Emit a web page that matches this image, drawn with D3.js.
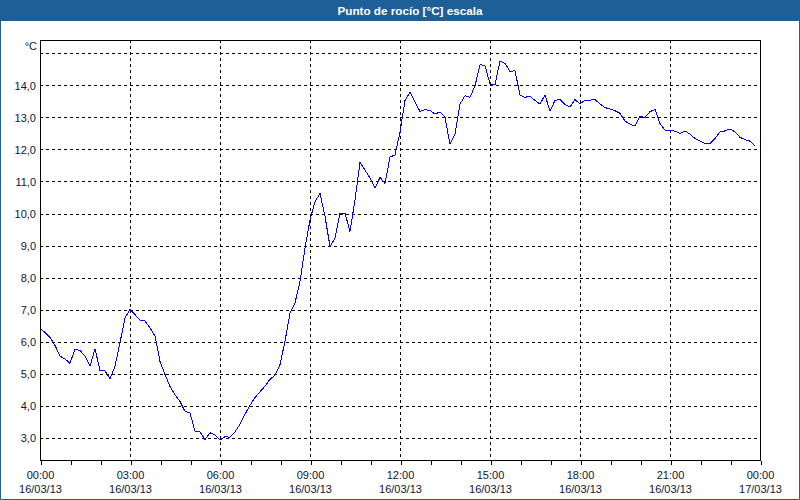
<!DOCTYPE html>
<html>
<head>
<meta charset="utf-8">
<script src="https://cdn.jsdelivr.net/npm/d3@7"></script>
<style>
  html, body { margin: 0; padding: 0; background: #ffffff; }
  svg { display: block; }
  text { font-family: "Liberation Sans", Arial, sans-serif; }
</style>
</head>
<body>
<script>
// ---- data ----
const chartTitle = "Punto de rocío [°C] escala";
const unitLabel = "°C";
const startTime = "2013-03-16T00:00:00";
const endTime = "2013-03-17T00:00:00";
const stepMinutes = 10;
const dewPoint = [
  6.42, 6.28, 6.13, 5.88, 5.54, 5.46, 5.32, 5.77, 5.72, 5.54,
  5.23, 5.77, 5.10, 5.08, 4.84, 5.23, 5.97, 6.74, 7.00, 6.84,
  6.67, 6.64, 6.43, 6.17, 5.38, 4.97, 4.60, 4.34, 4.13, 3.82,
  3.77, 3.20, 3.18, 2.94, 3.15, 3.09, 2.92, 3.03, 3.01, 3.18,
  3.42, 3.73, 4.01, 4.25, 4.43, 4.61, 4.82, 4.95, 5.28, 6.01,
  6.89, 7.21, 7.88, 8.92, 9.80, 10.37, 10.63, 9.91, 8.97, 9.23,
  10.01, 10.01, 9.44, 10.42, 11.59, 11.36, 11.10, 10.79, 11.13, 10.94,
  11.76, 11.83, 12.54, 13.53, 13.79, 13.48, 13.19, 13.24, 13.22, 13.11,
  13.17, 13.01, 12.16, 12.49, 13.42, 13.68, 13.63, 13.99, 14.65, 14.62,
  14.05, 14.02, 14.77, 14.69, 14.44, 14.46, 13.70, 13.63, 13.66, 13.53,
  13.42, 13.70, 13.20, 13.53, 13.57, 13.40, 13.33, 13.56, 13.42, 13.54,
  13.54, 13.56, 13.42, 13.31, 13.26, 13.21, 13.13, 12.89, 12.79, 12.73,
  13.04, 13.00, 13.18, 13.25, 12.81, 12.60, 12.60, 12.57, 12.50, 12.58,
  12.48, 12.34, 12.26, 12.19, 12.19, 12.34, 12.55, 12.58, 12.64, 12.55,
  12.38, 12.31, 12.26, 12.11
];
const yTickValues = [3, 4, 5, 6, 7, 8, 9, 10, 11, 12, 13, 14];
const yGridValues = [3, 4, 5, 6, 7, 8, 9, 10, 11, 12, 13, 14, 15];
const yDomain = [2.3, 15.42];

// ---- layout ----
const W = 800, H = 500;
const M = { left: 40, right: 760, top: 40, bottom: 460 };
const frameBlue = "#1f5f98";
const textColor = "#0f1535";

const t0 = new Date(startTime), t1 = new Date(endTime);
const points = dewPoint.map((v, i) => ({ t: new Date(t0.getTime() + i * stepMinutes * 60000), v }));

const x = d3.scaleTime().domain([t0, t1]).range([M.left, M.right]);
const y = d3.scaleLinear().domain(yDomain).range([M.bottom, M.top]);
const px = v => Math.round(v) + 0.5;

const svg = d3.select("body").append("svg").attr("width", W).attr("height", H);

svg.append("rect").attr("x", 0).attr("y", 0).attr("width", W).attr("height", H).attr("fill", "#ffffff");

// title bar
svg.append("rect").attr("x", 0).attr("y", 0).attr("width", W).attr("height", 21).attr("fill", frameBlue);
svg.append("text").attr("x", 410).attr("y", 15).attr("text-anchor", "middle")
  .attr("fill", "#ffffff").attr("font-weight", "bold").attr("font-size", "11.7px")
  .text(chartTitle);

// outer border (left, right, bottom)
svg.append("path").attr("d", `M0.5,0 V${H - 0.5} H${W - 0.5} V0`)
  .attr("fill", "none").attr("stroke", frameBlue).attr("stroke-width", 1);

// grid
const grid = svg.append("g").attr("stroke", "#000").attr("stroke-width", 1)
  .attr("stroke-dasharray", "3,3").attr("shape-rendering", "crispEdges");
grid.selectAll("line.h").data(yGridValues).join("line")
  .attr("x1", M.left).attr("x2", M.right)
  .attr("y1", d => px(y(d))).attr("y2", d => px(y(d)));
const hourTicks = d3.timeHour.every(1).range(t0, new Date(t1.getTime() + 1));
const majorTicks = hourTicks.filter(d => d.getHours() % 3 === 0);
grid.selectAll("line.v").data(majorTicks.filter(d => +d !== +t0 && +d !== +t1)).join("line")
  .attr("y1", M.top).attr("y2", M.bottom)
  .attr("x1", d => px(x(d))).attr("x2", d => px(x(d)));

// data line
const line = d3.line().x(d => x(d.t)).y(d => y(d.v));
svg.append("path").datum(points).attr("d", line)
  .attr("fill", "none").attr("stroke", "#0000ff").attr("stroke-width", 1)
  .attr("shape-rendering", "crispEdges");

// frame
svg.append("rect").attr("x", M.left + 0.5).attr("y", M.top + 0.5)
  .attr("width", M.right - M.left).attr("height", M.bottom - M.top)
  .attr("fill", "none").attr("stroke", "#000").attr("stroke-width", 1)
  .attr("shape-rendering", "crispEdges");

// x axis ticks
const xAxis = d3.axisBottom(x).tickValues(hourTicks).tickSize(4).tickFormat("");
const gx = svg.append("g").attr("transform", `translate(0.5,${M.bottom + 0.5})`).call(xAxis);
gx.select(".domain").remove();
gx.selectAll(".tick line").attr("stroke", "#000").attr("shape-rendering", "crispEdges");

// x labels
const fmtTime = d3.timeFormat("%H:%M"), fmtDate = d3.timeFormat("%d/%m/%y");
const xl = svg.append("g").attr("font-size", "11px").attr("fill", textColor).attr("text-anchor", "middle");
xl.selectAll("text.t").data(majorTicks).join("text")
  .attr("x", d => x(d) + 0.5).attr("y", 479).text(d => fmtTime(d));
xl.selectAll("text.d").data(majorTicks).join("text")
  .attr("x", d => x(d) + 0.5).attr("y", 493).text(d => fmtDate(d));

// y axis labels
const fmtY = v => d3.format(".1f")(v).replace(".", ",");
const yAxis = d3.axisLeft(y).tickValues(yTickValues).tickSize(0).tickPadding(4).tickFormat(fmtY);
const gy = svg.append("g").attr("transform", `translate(${M.left},0.5)`).call(yAxis);
gy.select(".domain").remove();
gy.selectAll("text").attr("font-size", "11px").attr("fill", textColor)
  .attr("font-family", "Liberation Sans, Arial, sans-serif").attr("dy", "0.35em");

// unit label
svg.append("text").attr("x", 37).attr("y", 50).attr("text-anchor", "end")
  .attr("font-size", "11px").attr("fill", textColor).text(unitLabel);
</script>
</body>
</html>
